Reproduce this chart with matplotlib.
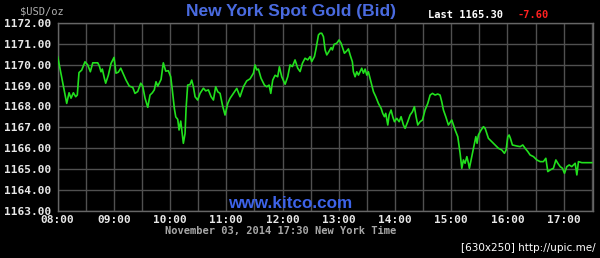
import numpy as np
import matplotlib
matplotlib.use("Agg")
import matplotlib.pyplot as plt
from matplotlib.ticker import MultipleLocator, FormatStrFormatter

# ---------- data (minutes after 08:00, bid price) ----------
minutes = [
    0, 9.6, 12.1, 14.2, 16.7, 19.2, 20.9, 22.7, 25.6, 29.1, 32.0, 34.8, 37.4, 42.7,
    44.4, 46.2, 47.6, 49.8, 51.2, 54.0, 56.9, 60.1, 62.2, 64.7, 67.3, 70.0, 72.9,
    76.4, 80.1, 82.5, 85.4, 88.6, 90.7, 93.2, 96.1, 98.5, 101.0, 103.1, 104.9,
    106.8, 110.3, 112.7, 115.3, 118.1, 120.6, 122.3, 124.5, 126.0, 128.1, 129.5,
    131.3, 134.1, 135.9, 137.0,
    138.7, 141.2, 143.0, 144.8, 146.6, 149.4, 151.9, 155.5, 158.0, 160.8, 163.7,
    166.2, 168.6, 170.8, 173.3, 175.8, 178.6, 181.5, 183.9, 187.5, 191.1, 194.6,
    198.2, 201.7, 205.3, 208.9, 210.6, 212.4, 214.2, 217.0, 220.6, 223.1, 225.6,
    227.4, 229.5, 232.0, 234.8, 236.6, 239.1, 242.7, 245.5, 248.0, 250.5, 253.3,
    256.2, 258.7, 261.2, 264.0, 266.9, 269.4, 271.1, 274.0, 275.8, 278.3, 280.0,
    281.8, 283.6, 285.4, 287.2, 288.9, 291.8, 293.2, 295.0, 297.8, 300.3, 302.5,
    304.2, 306.0, 308.5, 310.3, 312.1, 314.5, 315.6, 317.4, 319.2, 321.0, 322.7,
    324.5, 326.3, 328.1, 329.9, 331.6, 333.4, 335.2, 337.0, 339.5, 342.3, 345.2,
    346.9, 348.7, 350.1, 352.3, 353.7, 355.8, 357.6, 359.4, 361.9, 364.4, 366.5,
    369.0, 370.8, 373.6, 376.1, 378.6, 380.7, 382.5, 384.3, 386.8, 389.3, 392.1,
    395.0, 397.5, 400.0, 402.8, 405.6, 408.1, 409.9, 411.7, 414.2,
    417.0, 420.6, 424.2, 427.0, 429.5, 431.3, 433.0, 434.8, 436.7, 438.4, 439.4,
    441.2, 442.6, 444.8, 446.3, 447.6, 449.0, 451.9, 454.4, 456.2, 458.0, 459.7,
    463.3, 466.9, 470.4, 474.0, 476.8, 478.6, 480.4, 481.8, 483.2, 485.3, 490.0,
    493.6, 496.4, 498.9, 501.8, 504.2, 507.8, 511.4, 514.9, 518.4, 521.0, 523.1,
    525.6, 529.1, 531.7, 533.8, 536.3, 538.7, 540.9, 543.4, 545.9, 548.7, 550.5,
    552.3, 554.1, 555.8, 559.4, 570.1,
]
prices = [
    1170.39, 1168.15, 1168.66, 1168.40, 1168.66, 1168.47, 1168.55, 1169.63, 1169.75,
    1170.15, 1170.00, 1169.67, 1170.10, 1170.10, 1169.95, 1169.67, 1169.80, 1169.36,
    1169.12, 1169.50, 1170.07, 1170.36, 1169.60, 1169.65, 1169.84, 1169.57, 1169.27,
    1168.98, 1168.92, 1168.63, 1168.72, 1169.12, 1168.98, 1168.40, 1167.96, 1168.55,
    1168.66, 1168.80, 1169.19, 1168.98, 1169.30, 1170.10, 1169.70, 1169.72, 1169.43,
    1168.80, 1167.90, 1167.50, 1167.38, 1166.87, 1167.30, 1166.23, 1166.70, 1167.90,
    1169.03, 1169.05, 1169.27, 1168.95, 1168.47, 1168.31, 1168.63, 1168.88, 1168.75,
    1168.80, 1168.47, 1168.31, 1168.95, 1168.71, 1168.63, 1168.07, 1167.59, 1168.15,
    1168.39, 1168.63, 1168.87, 1168.47, 1168.95, 1169.23, 1169.33, 1169.60, 1170.00,
    1169.76, 1169.80, 1169.36, 1169.03, 1168.95, 1169.03, 1168.63, 1169.27, 1169.50,
    1169.43, 1169.91, 1169.43, 1169.07, 1169.43, 1170.00, 1169.92, 1170.24, 1169.84,
    1169.68, 1170.08, 1170.32, 1170.24, 1170.40, 1170.16, 1170.40, 1170.80, 1171.44,
    1171.52,
    1171.52, 1171.36, 1170.72, 1170.48, 1170.60, 1170.83, 1170.72, 1170.99, 1171.04,
    1171.20, 1171.04, 1170.80, 1170.56, 1170.67, 1170.77, 1170.48, 1170.15, 1169.67,
    1169.43, 1169.67, 1169.51, 1169.67, 1169.84, 1169.60, 1169.80, 1169.51, 1169.67,
    1169.36, 1169.03, 1168.71, 1168.47, 1168.15, 1167.91, 1167.67, 1167.51, 1167.67,
    1167.11, 1167.59, 1167.83, 1167.51, 1167.27, 1167.43, 1167.27, 1167.51, 1167.11,
    1166.95, 1167.27, 1167.59, 1167.75, 1167.99, 1167.51, 1167.11, 1167.27, 1167.35,
    1167.83, 1168.15, 1168.55, 1168.63, 1168.55, 1168.60, 1168.55, 1168.23, 1167.83,
    1167.51,
    1167.11, 1167.35, 1166.87, 1166.55, 1165.75, 1165.03, 1165.43, 1165.27, 1165.59,
    1165.27, 1165.03, 1165.43, 1165.75, 1166.23, 1166.55, 1166.23, 1166.63, 1166.87,
    1167.03, 1166.95, 1166.71, 1166.47, 1166.31, 1166.15, 1165.99, 1165.91, 1165.75,
    1165.91, 1166.55, 1166.63, 1166.47, 1166.15, 1166.10, 1166.07, 1166.15, 1165.99,
    1165.83, 1165.67, 1165.59, 1165.43, 1165.35, 1165.35, 1165.51, 1164.87, 1164.95,
    1165.03, 1165.43, 1165.27, 1165.11, 1165.03, 1164.79, 1165.11, 1165.19, 1165.11,
    1165.19, 1165.27, 1164.71, 1165.35, 1165.30, 1165.30,
]
hour_labels = ["08:00", "09:00", "10:00", "11:00", "12:00",
               "13:00", "14:00", "15:00", "16:00", "17:00"]
last_price = "1165.30"
change = "-7.60"

# ---------- figure ----------
BG = "black"
GRID = "#505050"
TXT = "#e8e8e8"
MONO = "DejaVu Sans Mono"

fig = plt.figure(figsize=(6.0, 2.58), dpi=100, facecolor=BG)
ax = fig.add_axes([0.0962, 0.1841, 0.8916, 0.7256], facecolor=BG)

ax.plot(minutes, prices, color="#22e01e", lw=1.2, zorder=3)

ax.set_xlim(0, 571)
ax.set_ylim(1163, 1172)
ax.set_xticks(np.arange(len(hour_labels)) * 60)
ax.set_xticklabels(hour_labels)
ax.xaxis.set_minor_locator(MultipleLocator(30))
ax.yaxis.set_major_locator(MultipleLocator(1))
ax.yaxis.set_major_formatter(FormatStrFormatter("%.2f"))

ax.grid(True, which="both", color=GRID, lw=1.0, zorder=1)
ax.tick_params(which="both", length=0, colors=TXT, labelsize=8)
ax.tick_params(axis="y", pad=5)
ax.tick_params(axis="x", pad=3)
for lab in ax.get_xticklabels() + ax.get_yticklabels():
    lab.set_fontfamily(MONO)
    lab.set_fontweight("bold")
for s in ax.spines.values():
    s.set_color("#666666")
    s.set_linewidth(1.0)

# ---------- texts ----------
fig.text(0.069, 0.957, "$USD/oz", color="#b0b0b0", family=MONO,
         fontsize=7.5, ha="center", va="center")
fig.text(0.485, 0.955, "New York Spot Gold (Bid)", color="#4a6be0",
         family="Liberation Sans", fontweight="bold", fontsize=12.5,
         ha="center", va="center")
fig.text(0.713, 0.943, "Last " + last_price, color="white", family=MONO,
         fontweight="bold", fontsize=7.5, ha="left", va="center")
fig.text(0.862, 0.943, change, color="#ff2020", family=MONO,
         fontweight="bold", fontsize=7.5, ha="left", va="center")
fig.text(0.483, 0.213, "www.kitco.com", color="#3d63e8",
         family="Liberation Sans", fontweight="bold", fontsize=12.3,
         ha="center", va="center")
fig.text(0.467, 0.103, "November 03, 2014 17:30 New York Time",
         color="#a8a8a8", family=MONO, fontweight="bold", fontsize=7.5,
         ha="center", va="center")
fig.text(0.992, 0.039, "[630x250] http://upic.me/", color="white",
         family="DejaVu Sans", fontsize=7.5, ha="right", va="center")

fig.savefig("out.png", dpi=100, facecolor=BG)
